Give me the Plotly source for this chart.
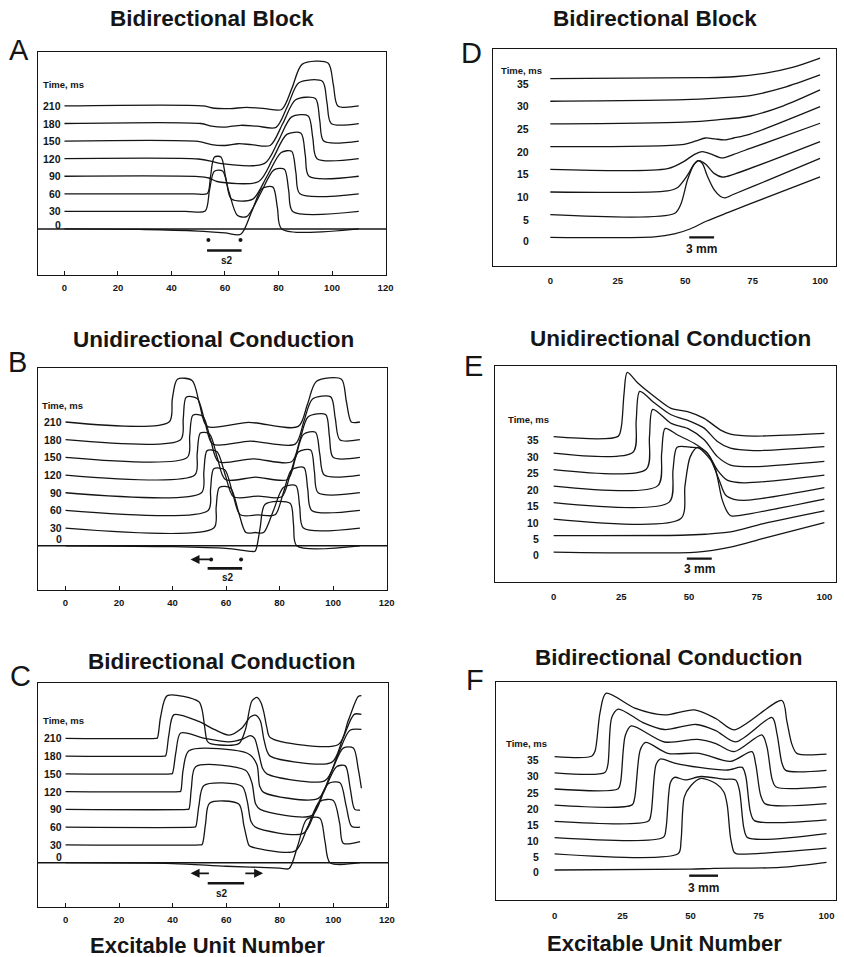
import plotly.graph_objects as go

W, H = 844, 957

# ---------------- data ----------------
TIMES_LEFT = [0, 30, 60, 90, 120, 150, 180, 210]
TIMES_RIGHT = [0, 5, 10, 15, 20, 25, 30, 35]
TICKS_LEFT = [0, 20, 40, 60, 80, 100, 120]
TICKS_RIGHT = [0, 25, 50, 75, 100]

# Panel A  (x = excitable unit, v = deflection in trace-spacing units)
A_x = [
    [0, 30, 50, 60, 65.9, 70.0, 73.9, 77.9, 79.6, 81.2, 110],
    [0, 45, 52.6, 54.2, 56.0, 59.1, 61.5, 64.6, 68.1, 73.2, 78.2, 82.2, 83.8, 85.3, 110],
    [0, 48, 53.4, 54.6, 56.0, 58.5, 60.3, 62.4, 70.4, 75.7, 81.0, 84.9, 86.5, 88.0, 110],
    [0, 50, 54, 57, 72.6, 77.9, 83.1, 88.4, 90.0, 91.4, 110],
    [0, 50, 55, 58, 74.8, 79.9, 84.9, 91.1, 92.8, 94.4, 110],
    [0, 50, 55, 60, 65, 70, 76.9, 81.6, 86.4, 93.8, 95.4, 96.9, 110],
    [0, 51, 55, 60, 66, 72, 79.1, 83.4, 87.6, 96.4, 98.1, 99.7, 110],
    [0, 52, 56, 62, 68, 75, 81.2, 85.0, 88.9, 98.5, 100.5, 102.2, 110],
]
A_v = [
    [0, -0.03, -0.12, -0.22, -0.3, 1.0, 2.3, 2.38, 1.2, 0, 0],
    [0, 0, 0.02, 1.2, 2.28, 2.3, 1.1, -0.22, -0.3, 1.0, 2.35, 2.4, 1.2, 0, 0],
    [0, 0, 0.02, 1.0, 2.08, 2.1, 0.9, -0.3, -0.3, 1.0, 2.35, 2.42, 1.2, 0, 0],
    [0, -0.02, -0.1, -0.3, -0.3, 1.0, 2.38, 2.45, 1.2, 0, 0],
    [0, -0.02, -0.15, -0.27, -0.27, 1.0, 2.38, 2.43, 1.2, 0, 0],
    [0, -0.02, -0.2, -0.25, -0.15, -0.2, -0.25, 1.0, 2.35, 2.42, 1.2, 0, 0],
    [0, 0, -0.15, -0.2, -0.1, -0.15, -0.22, 1.0, 2.32, 2.4, 1.2, 0, 0],
    [0, 0, -0.13, -0.15, -0.08, -0.15, -0.2, 1.0, 2.38, 2.45, 1.2, 0, 0],
]

# Panel B
B_x = [
    [0, 40, 60, 69.6, 70.9, 72.7, 74.6, 83.9, 85.2, 86.4, 110],
    [0, 55.4, 56.3, 57.5, 61.6, 64.5, 67.4, 71.0, 74.0, 77.7, 81.4, 86.1, 87.5, 88.9, 110],
    [0, 53.3, 54.2, 55.4, 59.5, 62.4, 65.3, 72.0, 78.3, 81.4, 84.5, 89.1, 90.5, 92.0, 110],
    [0, 50.8, 51.7, 52.9, 56.6, 59.7, 62.8, 72.0, 80.8, 83.9, 87.0, 91.6, 93.0, 94.4, 110],
    [0, 48.3, 49.2, 50.4, 53.8, 56.7, 59.7, 71.0, 83.0, 86.0, 88.9, 93.4, 95.0, 96.7, 110],
    [0, 45.5, 46.4, 47.6, 51.3, 54.2, 57.2, 70.0, 84.5, 87.6, 90.7, 97.2, 98.6, 100.0, 110],
    [0, 43.0, 44.0, 45.1, 49.2, 52.1, 55.0, 69.0, 85.8, 89.0, 92.3, 99.1, 100.8, 102.5, 110],
    [0, 38.7, 39.9, 41.8, 47.3, 50.1, 52.9, 68.4, 87.0, 90.4, 93.8, 103.1, 104.9, 106.8, 110],
]
B_v = [
    [0, -0.05, -0.15, -0.32, -0.3, 1.0, 2.35, 2.4, 1.2, 0, 0],
    [0, 0, 1.2, 2.3, 2.28, 1.0, -0.25, -0.25, -0.25, 1.0, 2.3, 2.4, 1.2, 0, 0],
    [0, 0, 1.2, 2.35, 2.3, 1.0, -0.25, -0.25, -0.25, 1.0, 2.3, 2.42, 1.2, 0, 0],
    [0, 0, 1.2, 2.38, 2.32, 1.0, -0.23, -0.19, -0.23, 1.0, 2.3, 2.42, 1.2, 0, 0],
    [0, 0, 1.2, 2.38, 2.32, 1.0, -0.25, -0.12, -0.25, 1.0, 2.3, 2.42, 1.2, 0, 0],
    [0, 0, 1.2, 2.38, 2.33, 1.0, -0.25, -0.08, -0.25, 1.0, 2.3, 2.42, 1.2, 0, 0],
    [0, 0, 1.2, 2.4, 2.33, 1.0, -0.25, -0.08, -0.25, 1.0, 2.3, 2.42, 1.2, 0, 0],
    [0, 0, 1.3, 2.42, 2.35, 1.0, -0.25, -0.02, -0.25, 1.0, 2.3, 2.42, 1.2, 0, 0],
]

# Panel C
C_x = [
    [0, 40, 60, 80, 83.5, 86.8, 90.1, 95.0, 96.9, 98.8, 110],
    [0, 50, 51.0, 52.3, 53.8, 64.7, 66.6, 68.4, 69.0, 85.7, 90.4, 95.0, 100.0, 102.4, 103.7, 110],
    [0, 48, 48.6, 49.8, 51.7, 65.9, 67.8, 69.3, 70.9, 88.8, 93.5, 98.1, 102.5, 104.8, 106.8, 110],
    [0, 45.5, 46.1, 47.0, 48.6, 67.2, 69.6, 71.0, 72.7, 91.9, 96.5, 101.2, 104.5, 106.3, 108.0, 110],
    [0, 42.4, 43.0, 43.9, 46.1, 68.4, 71.5, 72.5, 74.0, 94.4, 99.0, 103.7, 107.5, 109.3, 110.5],
    [0, 39.3, 39.9, 41.2, 43.0, 52.0, 61.0, 66.0, 69.0, 70.6, 72.1, 73.6, 75.2, 96.9, 101.5, 106.2, 110.5],
    [0, 36.8, 37.4, 38.6, 40.5, 49.8, 55.5, 61.0, 66.0, 69.0, 70.9, 72.7, 74.0, 75.2, 76.4, 99.4, 103.6, 107.8, 110.5],
    [0, 33.7, 34.3, 35.5, 38.0, 49.8, 51.0, 52.0, 52.9, 54.1, 64.7, 67.2, 69.6, 71.5, 73.0, 74.0, 75.2, 76.4, 101.9, 105.6, 109.3, 110.5],
]
C_v = [
    [0, -0.05, -0.2, -0.3, -0.33, 1.0, 2.45, 2.5, 1.2, 0, 0],
    [0, 0, 0.02, 1.2, 2.35, 2.3, 1.1, 0.0, -0.08, -0.35, 1.0, 2.45, 2.5, 1.2, 0.1, 0.19],
    [0, 0, 0.02, 1.2, 2.35, 2.3, 1.5, 0.3, 0.0, -0.35, 1.0, 2.45, 2.5, 1.2, 0.05, 0.0],
    [0, 0, 0.02, 1.2, 2.4, 2.2, 1.5, 0.3, 0.0, -0.35, 1.0, 2.4, 2.45, 1.2, 0.0, -0.04],
    [0, 0, 0.02, 1.2, 2.3, 2.12, 1.5, 0.3, -0.04, -0.38, 1.0, 2.45, 2.45, 1.3, 0.19],
    [0, 0, 0.02, 1.2, 2.3, 2.0, 1.8, 1.95, 2.15, 2.0, 1.2, 0.3, 0.0, -0.38, 1.0, 2.45, 2.5],
    [0, 0, 0.02, 1.2, 2.33, 1.95, 1.5, 1.18, 1.6, 2.2, 2.3, 2.0, 1.0, 0.3, 0.0, -0.35, 1.0, 2.35, 2.35],
    [0, 0, 0.02, 1.2, 2.4, 2.06, 1.6, 0.6, -0.15, -0.3, -0.3, 0.5, 2.1, 2.3, 2.0, 1.5, 0.6, 0.05, -0.35, 1.0, 2.35, 2.4],
]

# Panel D
D_x = [
    [0, 38.6, 46, 52, 58, 66, 80, 100],
    [0, 46, 48.4, 50.9, 53.3, 54.8, 56.4, 58.2, 60.7, 63.1, 64.8, 68, 80.3, 100],
    [0, 43.5, 47.2, 50.9, 53.3, 55.1, 57.6, 60.7, 63.7, 68, 100],
    [0, 43.5, 49.6, 53.3, 56.4, 59.4, 63.7, 68, 74.1, 100],
    [0, 49.6, 54, 57.5, 61, 64.5, 68, 74.1, 100],
    [0, 49.6, 61.9, 74.1, 86.4, 100],
    [0, 49.6, 61.9, 74.1, 86.4, 100],
    [0, 55.8, 68, 80.3, 90.1, 100],
]
D_v = [
    [0, 0.02, 0.15, 0.38, 0.72, 1.1, 1.75, 2.67],
    [0, 0.05, 0.47, 1.55, 2.22, 2.38, 2.25, 1.7, 1.1, 0.8, 0.74, 0.9, 1.5, 2.48],
    [0, 0.05, 0.2, 0.75, 1.22, 1.38, 1.22, 0.82, 0.66, 0.78, 2.22],
    [0, 0.03, 0.35, 0.65, 0.78, 0.68, 0.5, 0.66, 0.92, 2.03],
    [0, 0.1, 0.25, 0.38, 0.34, 0.3, 0.38, 0.55, 1.76],
    [0, 0.08, 0.18, 0.35, 0.8, 1.5],
    [0, 0.07, 0.14, 0.25, 0.6, 1.16],
    [0, 0.04, 0.08, 0.25, 0.5, 0.9],
]

# Panel E
E_x = [
    [0, 53, 65.3, 77.5, 100],
    [0, 47, 56, 65.3, 77.5, 100],
    [0, 47.0, 48.5, 50.4, 53.1, 56.8, 59.8, 62.3, 64.7, 65.9, 70, 100],
    [0, 42.7, 44.1, 45.6, 50.7, 53.7, 58.0, 61.1, 63.5, 66.6, 72, 100],
    [0, 38.5, 39.9, 41.2, 45.8, 51.9, 56.8, 60.5, 64.1, 70.2, 100],
    [0, 34.2, 35.4, 36.6, 43.4, 49.5, 55.6, 60.5, 65.3, 73.9, 100],
    [0, 29.3, 30.5, 31.8, 37.3, 43.4, 50.7, 55.6, 60.5, 65.3, 73.9, 100],
    [0, 23.8, 25.0, 26.0, 27.2, 31.1, 37.3, 43.4, 49.5, 55.6, 61.7, 65.3, 73.9, 100],
]
E_v = [
    [0, 0.0, 0.3, 0.83, 1.78],
    [0, 0.02, 0.08, 0.22, 0.73, 1.5],
    [0, 0.03, 2.0, 3.76, 4.35, 3.99, 2.99, 1.15, 0.3, 0.18, 0.25, 1.21],
    [0, 0.03, 2.0, 3.36, 3.36, 3.3, 2.59, 1.38, 0.46, 0.2, 0.15, 0.91],
    [0, 0.03, 2.0, 3.5, 3.1, 2.6, 2.0, 0.97, 0.36, 0.2, 0.67],
    [0, 0.03, 2.0, 3.66, 2.81, 2.5, 1.81, 0.79, 0.28, 0.18, 0.5],
    [0, 0.05, 2.0, 3.75, 3.04, 2.33, 1.92, 1.52, 0.71, 0.3, 0.16, 0.4],
    [0, 0.02, 0.6, 2.6, 3.9, 3.26, 2.43, 1.72, 1.52, 1.11, 0.4, 0.16, 0.04, 0.2],
]

# Panel F
F_x = [
    [0, 50, 58.6, 83, 100],
    [0, 45.5, 46.5, 47.7, 50.1, 53.8, 59.3, 62.3, 63.5, 64.7, 66.0, 67.0, 100],
    [0, 40.0, 41.0, 42.6, 44.1, 48.0, 53.8, 62.5, 66.6, 68.0, 69.6, 71.0, 100],
    [0, 34.5, 35.5, 37.3, 38.9, 44.1, 53.2, 63.5, 69.0, 70.3, 72.0, 73.5, 100],
    [0, 28.5, 29.5, 31.5, 33.5, 41.6, 53.2, 64.7, 72.6, 74.0, 75.8, 77.5, 100],
    [0, 23.4, 24.3, 26.0, 28.2, 40.4, 52.6, 59.3, 66.0, 76.3, 78.1, 80.0, 81.5, 100],
    [0, 18.5, 19.6, 21.0, 23.4, 32.5, 40.4, 52.0, 59.3, 66.6, 80.0, 81.8, 83.6, 85.0, 100],
    [0, 13.6, 14.9, 16.7, 18.9, 29.5, 40.4, 51.4, 59.3, 66.0, 83.6, 85.4, 87.2, 89.1, 100],
]
F_v = [
    [0, 0.05, 0.1, 0.16, 0.47],
    [0, 0.02, 0.8, 3.5, 4.2, 4.65, 4.34, 3.8, 3.0, 1.0, 0.1, 0.0, 0.35],
    [0, 0.02, 0.6, 3.4, 3.72, 3.56, 3.77, 3.6, 3.56, 2.9, 0.6, 0.0, 0.25],
    [0, 0.02, 0.5, 3.5, 3.85, 3.6, 3.33, 3.17, 3.33, 2.8, 0.6, 0.05, 0.1],
    [0, 0.02, 0.5, 3.4, 3.87, 3.2, 3.2, 2.7, 3.3, 2.5, 0.6, 0.08, 0.1],
    [0, 0.02, 0.45, 3.3, 3.89, 2.9, 3.06, 2.8, 2.3, 3.33, 2.6, 0.6, 0.12, 0.15],
    [0, 0.02, 0.5, 3.4, 3.93, 3.1, 2.67, 2.98, 2.6, 1.91, 3.41, 2.4, 0.6, 0.15, 0.15],
    [0, 0.02, 0.35, 2.7, 3.9, 2.99, 2.57, 2.88, 2.35, 1.65, 3.46, 2.2, 0.8, 0.2, 0.15],
]

S2_START, S2_END = 53.5, 66.2          # stimulus site (units)
SCALE_D = [51.5, 60.7]                # 3 mm scale bar (units)
SCALE_E = [49.2, 58.4]
SCALE_F = [49.5, 60.1]

# ---------------- layout geometry ----------------
FONT = "Liberation Sans, Arial, sans-serif"
INK = "#151515"

def dom_x(a, b):
    return [a / W, b / W]

def dom_y(top, bottom):
    return [1 - bottom / H, 1 - top / H]

panels = {
    "A": (1, (38, 389.3), (52, 275), [-10, 120.2], [-2.62, 10.07], TICKS_LEFT, A_x, A_v, TIMES_LEFT),
    "B": (2, (38, 390.7), (367.7, 590), [-10.4, 120.3], [-2.5, 10.07], TICKS_LEFT, B_x, B_v, TIMES_LEFT),
    "C": (3, (38, 391.7), (682.7, 907.3), [-10.4, 120.6], [-2.51, 10.13], TICKS_LEFT, C_x, C_v, TIMES_LEFT),
    "D": (4, (496.7, 843), (49.3, 265.7), [-21.4, 105.9], [-1.25, 8.29], TICKS_RIGHT, D_x, D_v, TIMES_RIGHT),
    "E": (5, (499.3, 843), (366, 581.7), [-21.6, 104.3], [-1.8, 11.29], TICKS_RIGHT, E_x, E_v, TIMES_RIGHT),
    "F": (6, (500, 843), (681.7, 900), [-21.6, 103.5], [-1.85, 11.62], TICKS_RIGHT, F_x, F_v, TIMES_RIGHT),
}

fig = go.Figure()
layout = dict(
    width=W, height=H, margin=dict(l=0, r=0, t=0, b=0),
    paper_bgcolor="white", plot_bgcolor="white", showlegend=False,
    font=dict(family=FONT, color=INK),
)
annotations = []
shapes = []

for name, (i, xd, yd, xr, yr, tv, XS, VS, times) in panels.items():
    sx = "" if i == 1 else str(i)
    xa, ya = "x" + sx, "y" + sx
    left = name in "ABC"
    layout["xaxis" + sx] = dict(
        domain=dom_x(*xd), range=xr, anchor=ya,
        showline=True, mirror=True, linecolor=INK, linewidth=1.4,
        showgrid=False, zeroline=False,
        tickvals=tv, ticktext=[str(t) for t in tv],
        ticks="inside" if left else "", ticklen=4, tickcolor=INK,
        tickfont=dict(size=9.5, family=FONT, color=INK, weight="bold"),
        ticklabelstandoff=3 if left else 6,
    )
    layout["yaxis" + sx] = dict(
        domain=dom_y(*yd), range=yr, anchor=xa,
        showline=True, mirror=True, linecolor=INK, linewidth=1.4,
        showgrid=False, zeroline=False, showticklabels=False, ticks="",
    )
    for k, (xs, vs) in enumerate(zip(XS, VS)):
        fig.add_trace(go.Scatter(
            x=xs, y=[v + k for v in vs], xaxis=xa, yaxis=ya, mode="lines",
            line=dict(color=INK, width=1.3, shape="spline", smoothing=0.8),
            hoverinfo="skip",
        ))
    if left:
        lab_x = -0.5
        t_x = {"A": -8.6, "B": -9.6, "C": -9.0}[name]
        t_y = {"A": 8.24, "B": 7.96, "C": 8.03}[name]
        zero_dy = {"A": 0.25, "B": 0.36, "C": 0.3}[name]
        dy = 0.0
    else:
        lab_x = {"D": -7.0, "E": -4.5, "F": -4.9}[name]
        t_x = {"D": -19.1, "E": -17.7, "F": -18.7}[name]
        t_y = {"D": 7.37, "E": 8.06, "F": 7.78}[name]
        zero_dy, dy = -0.15, -0.22
    for k, t in enumerate(times):
        yy = (zero_dy if k == 0 else dy) + k
        annotations.append(dict(
            x=lab_x, y=yy, xref=xa, yref=ya, text=str(t), showarrow=False,
            xanchor="right", yanchor="middle",
            font=dict(size=10.5, family=FONT, color=INK, weight="bold"),
        ))
    annotations.append(dict(
        x=t_x, y=t_y, xref=xa, yref=ya, text="Time, ms", showarrow=False,
        xanchor="left", yanchor="middle",
        font=dict(size=9.5, family=FONT, color=INK, weight="bold"),
    ))
    if left:
        shapes.append(dict(type="line", xref=xa + " domain", yref=ya, x0=0, x1=1, y0=0, y1=0,
                           line=dict(color=INK, width=1.4)))

# ---- stimulus markings (A, B, C) ----
def hline(xa, ya, x0, x1, y, w=2.6):
    fig.add_trace(go.Scatter(x=[x0, x1], y=[y, y], xaxis=xa, yaxis=ya, mode="lines",
                             line=dict(color=INK, width=w), hoverinfo="skip"))

def dots(xa, ya, xs, y):
    fig.add_trace(go.Scatter(x=xs, y=[y] * len(xs), xaxis=xa, yaxis=ya, mode="markers",
                             marker=dict(color=INK, size=4), hoverinfo="skip"))

def arrow(xa, ya, x_tail, x_head, y):
    annotations.append(dict(x=x_head, y=y, ax=x_tail, ay=y, xref=xa, yref=ya, axref=xa, ayref=ya,
                            text="", showarrow=True, arrowhead=2, arrowsize=1.0, arrowwidth=1.8,
                            arrowcolor=INK, standoff=0, startstandoff=0))

def s2text(xa, ya, x, y):
    annotations.append(dict(x=x, y=y, xref=xa, yref=ya, text="s2", showarrow=False,
                            font=dict(size=10, family=FONT, color=INK, weight="bold")))

# A
dots("x", "y", [S2_START + 0.3, S2_END - 0.4], -0.63)
hline("x", "y", S2_START - 0.2, S2_END, -1.23)
s2text("x", "y", 60.9, -1.8)
# B
dots("x2", "y2", [S2_START + 0.9, S2_END - 0.6], -0.77)
arrow("x2", "y2", S2_START + 0.9, 46.7, -0.77)
hline("x2", "y2", S2_START - 0.4, S2_END - 0.2, -1.28)
s2text("x2", "y2", 60.7, -1.79)
# C
arrow("x3", "y3", S2_START + 0.6, 46.7, -0.6)
arrow("x3", "y3", S2_END + 0.4, 73.8, -0.6)
hline("x3", "y3", S2_START - 0.4, S2_END + 0.5, -1.16)
s2text("x3", "y3", 58.5, -1.76)

# ---- 3 mm scale bars (D, E, F) ----
for (xa, ya, sb, by, ty) in [("x4", "y4", SCALE_D, 0.0, -0.53),
                             ("x5", "y5", SCALE_E, -0.4, -1.05),
                             ("x6", "y6", SCALE_F, -0.35, -1.09)]:
    hline(xa, ya, sb[0], sb[1], by, w=2.4)
    annotations.append(dict(x=(sb[0] + sb[1]) / 2, y=ty, xref=xa, yref=ya, text="3 mm",
                            showarrow=False, font=dict(size=12, family=FONT, color=INK, weight="bold")))

# ---- titles, letters, axis titles ----
def ptext(x, y, text, size, bold=True):
    annotations.append(dict(x=x / W, y=1 - y / H, xref="paper", yref="paper", text=text,
                            showarrow=False, xanchor="center", yanchor="middle",
                            font=dict(size=size, family=FONT, color=INK,
                                      weight="bold" if bold else "normal")))

ptext(213.3, 18.3, "Bidirectional Block", 22.5)
ptext(215, 340, "Unidirectional Conduction", 22.5)
ptext(224, 661.7, "Bidirectional Conduction", 22.5)
ptext(660, 18.3, "Bidirectional Block", 22.5)
ptext(676, 338.3, "Unidirectional Conduction", 22.5)
ptext(675, 657.3, "Bidirectional Conduction", 22.5)
ptext(209.3, 945, "Excitable Unit Number", 22)
ptext(670, 943.3, "Excitable Unit Number", 22)
for (lx, ly, L) in [(19, 50, "A"), (18, 362, "B"), (20.5, 676, "C"),
                    (475, 53, "D"), (477.5, 366, "E"), (479, 680, "F")]:
    ptext(lx, ly, L, 29, bold=False)

layout["annotations"] = annotations
layout["shapes"] = shapes
fig.update_layout(**layout)
fig.write_html("out.html")
